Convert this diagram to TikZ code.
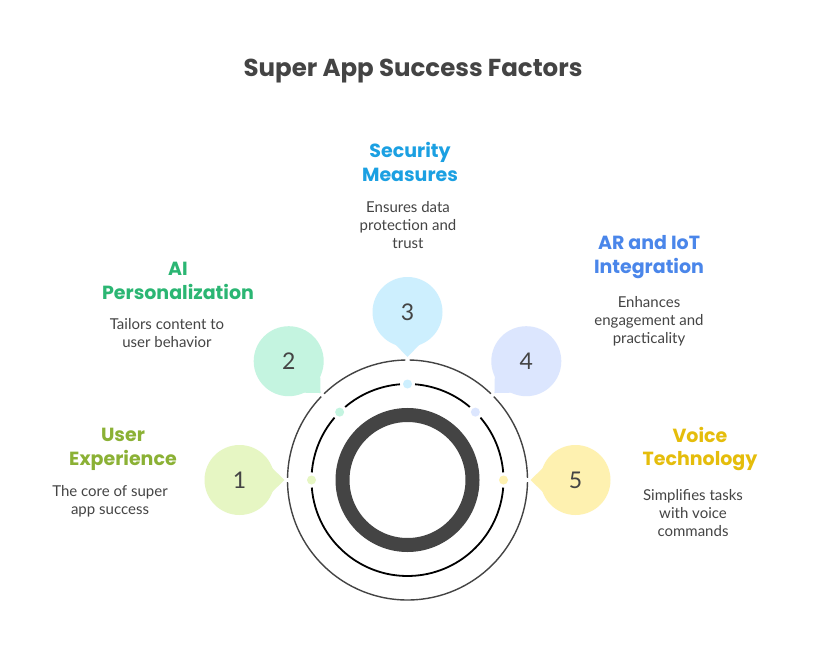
\documentclass[tikz,border=0pt]{standalone}
\usepackage{fontspec}
\setmainfont{Lato}
\newfontfamily\headfont{Poppins}
\newfontfamily\bodyfont{Lato}
\definecolor{ink}{HTML}{444444}
\definecolor{hA}{HTML}{8BB135}
\definecolor{hB}{HTML}{2BB673}
\definecolor{hC}{HTML}{1BA0E2}
\definecolor{hD}{HTML}{4A86EA}
\definecolor{hE}{HTML}{E5BD0B}
\definecolor{bA}{HTML}{E6F6C3}
\definecolor{bB}{HTML}{C4F4E0}
\definecolor{bC}{HTML}{CDEFFE}
\definecolor{bD}{HTML}{DCE6FE}
\definecolor{bE}{HTML}{FEF1B0}
\tikzset{
  heading/.style={inner sep=0pt, align=center, font=\headfont\bfseries\fontsize{19}{24}\selectfont},
  desc/.style={inner sep=0pt, align=center, text=ink, font=\bodyfont\fontsize{15}{18}\selectfont},
  bubble/.style={circle, minimum size=70pt, inner sep=0pt, text=ink, font=\bodyfont\fontsize{23}{23}\selectfont},
  dotmark/.style={circle, minimum size=9pt, inner sep=0pt},
  outerring/.style={draw=ink, line width=1.4pt},
  midring/.style={draw=black, line width=1.8pt},
}
\newcommand{\mybubble}[4]{%
  \fill[#2] (#1:136.5) ++(#1+90:13) -- (#1:123) -- ($(#1:136.5)+(#1-90:13)$) -- cycle;
  \node[bubble, fill=#2] (b#4) at (#1:168) {#3};
  \node[dotmark, fill=#2] (d#4) at (#1:96) {};
}
\usetikzlibrary{calc}
\begin{document}
\begin{tikzpicture}[x=1pt,y=-1pt]
\useasboundingbox[fill=white] (0,0) rectangle (816,660);
\node[inner sep=0pt, text=ink, font=\headfont\bfseries\fontsize{24.5}{24.5}\selectfont] (title) at (413,71) {Super App Success Factors};

\begin{scope}[shift={(407.5,480)}, x=1pt, y=1pt]
  \coordinate (ctr) at (0,0);
  \draw[draw=ink, line width=14pt] (ctr) circle[radius=65];
  % outer ring with gaps
  \draw[outerring] (1:120) arc[start angle=1, end angle=44, radius=120];
  \draw[outerring] (46:120) arc[start angle=46, end angle=89, radius=120];
  \draw[outerring] (91:120) arc[start angle=91, end angle=134, radius=120];
  \draw[outerring] (136:120) arc[start angle=136, end angle=179, radius=120];
  \draw[outerring] (181:120) arc[start angle=181, end angle=359, radius=120];
  % middle ring with gaps
  \draw[midring] (4.5:96) arc[start angle=4.5, end angle=40.5, radius=96];
  \draw[midring] (49.5:96) arc[start angle=49.5, end angle=85.5, radius=96];
  \draw[midring] (94.5:96) arc[start angle=94.5, end angle=130.5, radius=96];
  \draw[midring] (139.5:96) arc[start angle=139.5, end angle=175.5, radius=96];
  \draw[midring] (184.5:96) arc[start angle=184.5, end angle=355.5, radius=96];
  \mybubble{180}{bA}{1}{1}
  \mybubble{135}{bB}{2}{2}
  \mybubble{90}{bC}{3}{3}
  \mybubble{45}{bD}{4}{4}
  \mybubble{0}{bE}{5}{5}
\end{scope}

\node[heading, text=hA] (h1) at (123,449) {User\\Experience};
\node[desc] (t1) at (110,501) {The core of super\\app success};
\node[heading, text=hB] (h2) at (178,281) {AI\\Personalization};
\node[desc] (t2) at (167,333) {Tailors content to\\user behavior};
\node[heading, text=hC] (h3) at (410,161.5) {Security\\Measures};
\node[desc] (t3) at (408,225.5) {Ensures data\\protection and\\trust};
\node[heading, text=hD] (h4) at (649,257) {AR and IoT\\Integration};
\node[desc] (t4) at (649,321) {Enhances\\engagement and\\practicality};
\node[heading, text=hE] (h5) at (700,449) {Voice\\Technology};
\node[desc] (t5) at (693,513) {Simplifies tasks\\with voice\\commands};
\end{tikzpicture}
\end{document}
